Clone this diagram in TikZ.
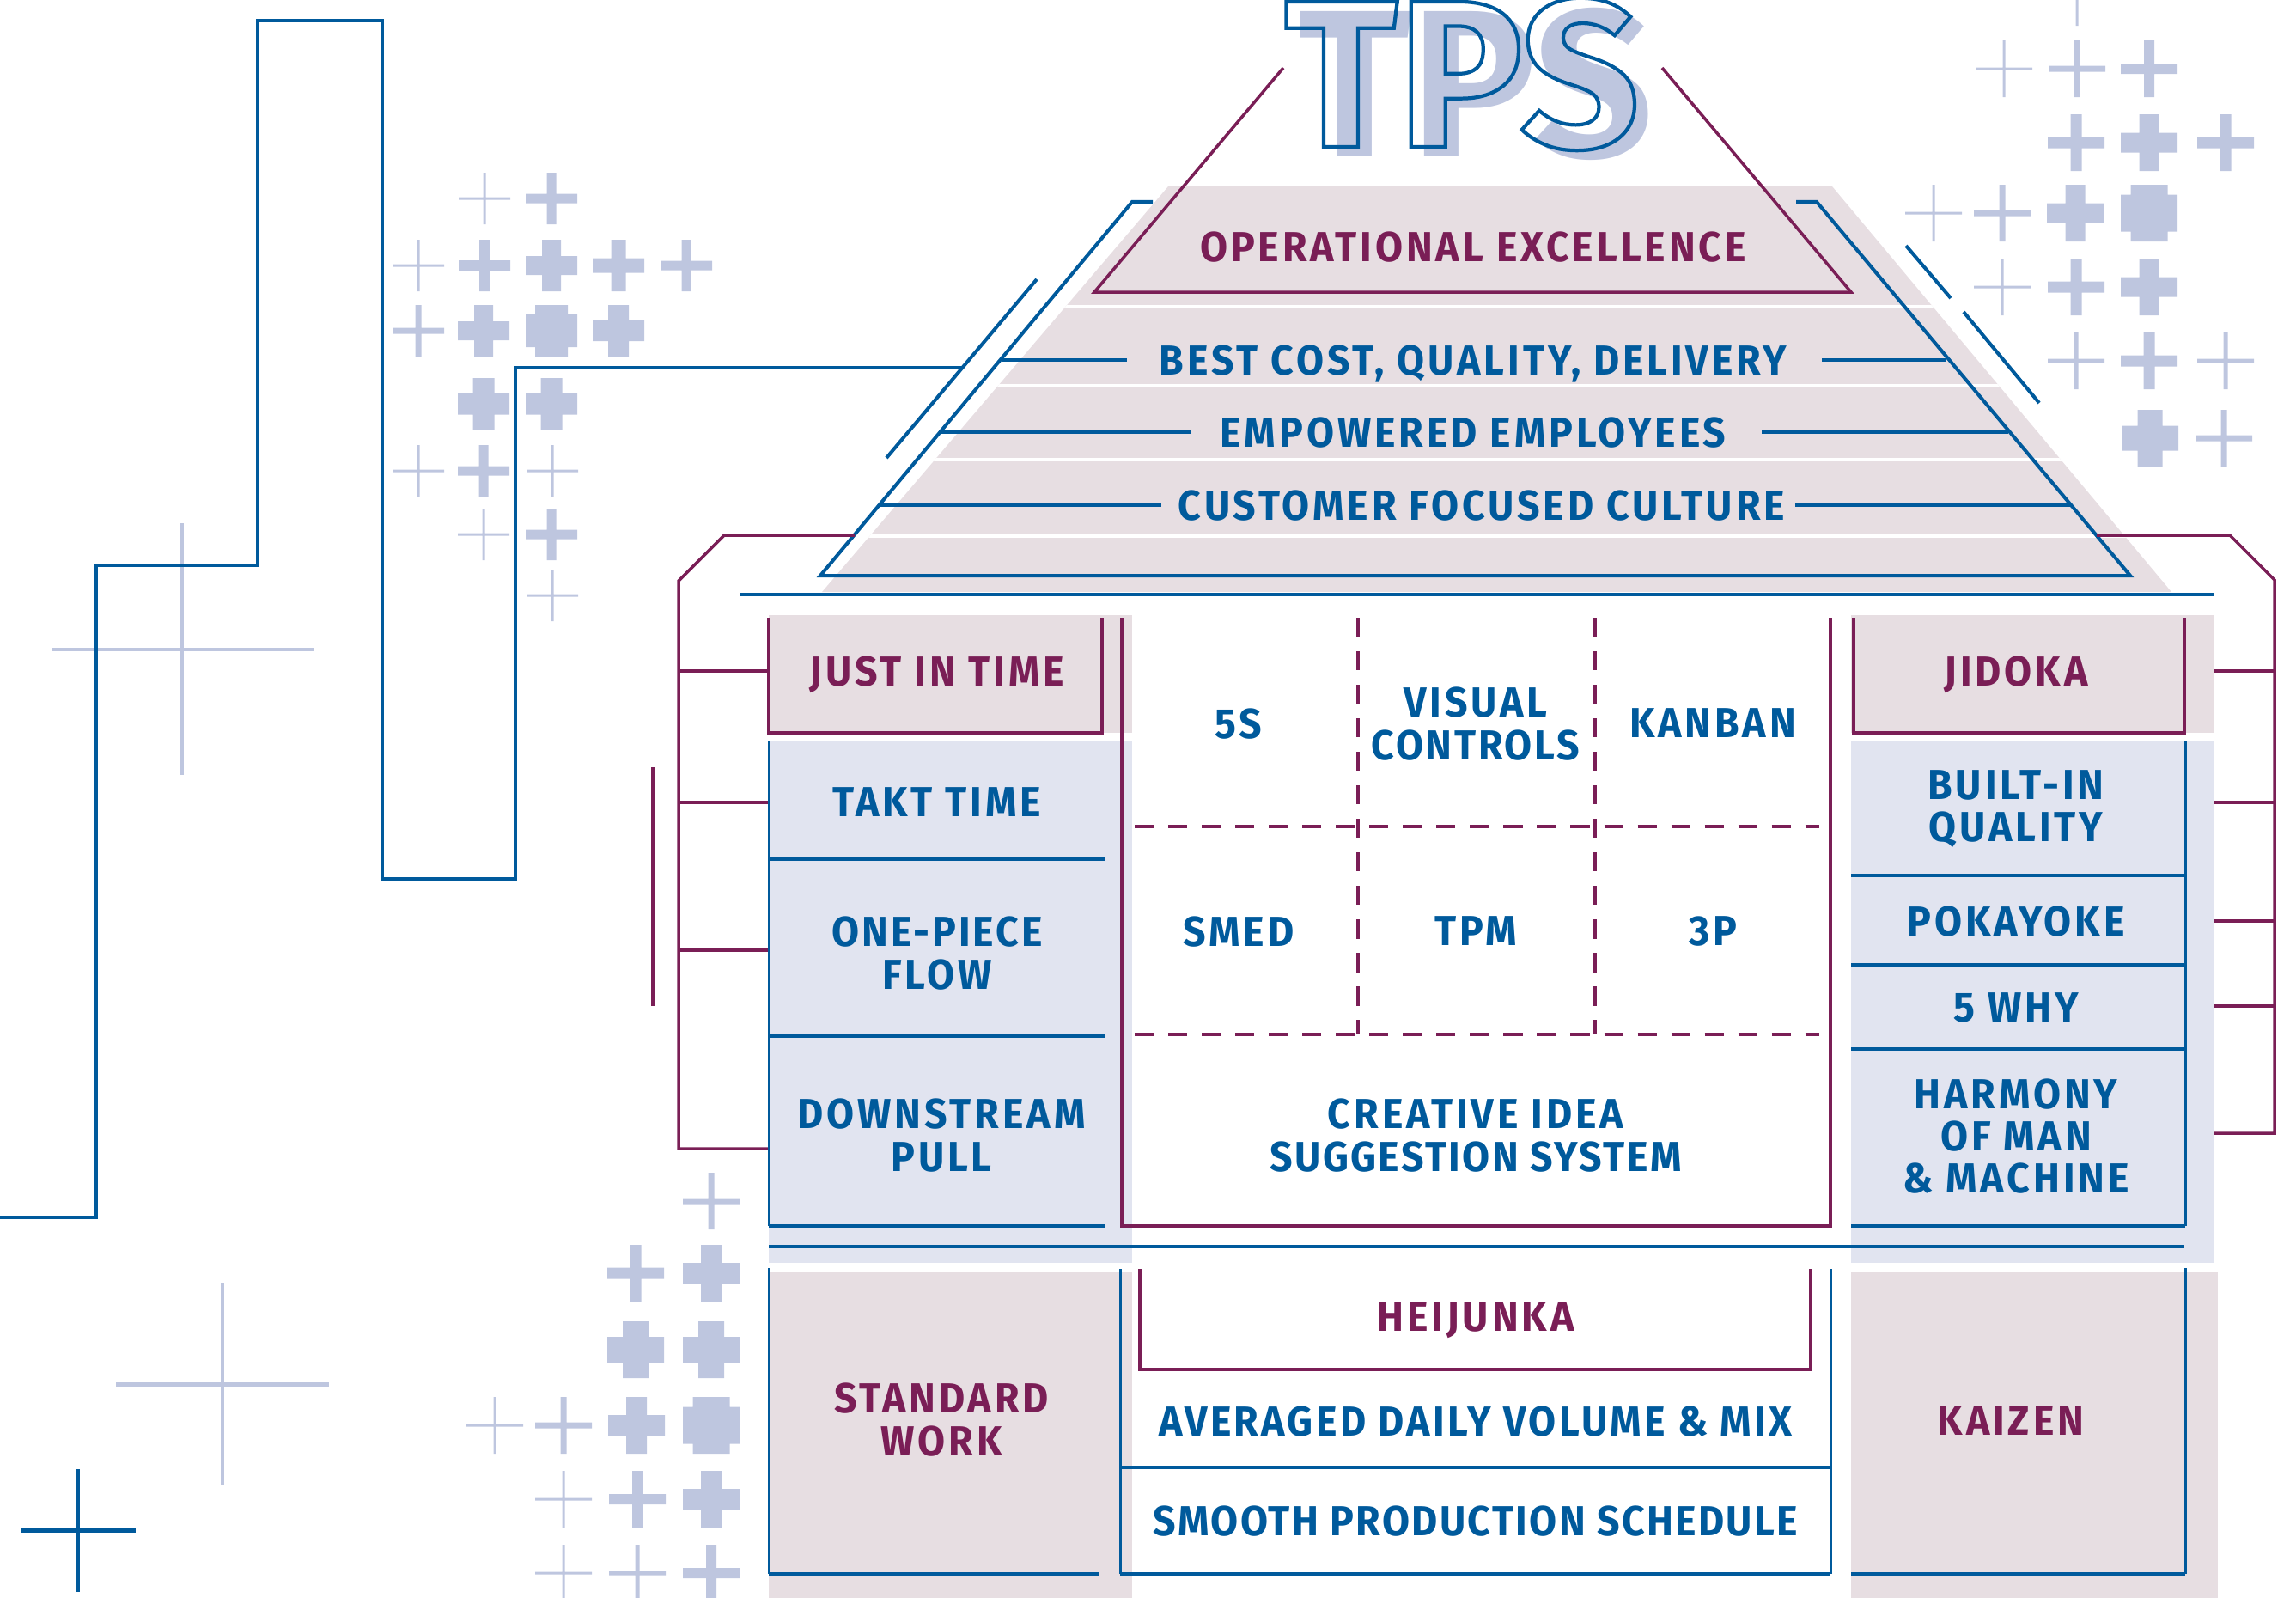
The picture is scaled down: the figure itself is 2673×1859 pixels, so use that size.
\documentclass[tikz,border=0pt]{standalone}
\usepackage{fontspec}
\newfontfamily\lblfont[FakeStretch=0.95,LetterSpace=8]{Fira Sans}
\newfontfamily\tpsfont{Fira Sans}
\definecolor{tpsblue}{RGB}{0,90,156}
\definecolor{tpspurple}{RGB}{122,30,86}
\definecolor{tpslav}{RGB}{190,198,223}
\definecolor{tpspink}{RGB}{231,222,226}
\definecolor{tpspale}{RGB}{225,228,240}

\begin{document}
\begin{tikzpicture}[x=0.01cm,y=-0.01cm,
    lbl/.style={font=\lblfont\bfseries\fontsize{13.9}{14}\selectfont,text=tpsblue,inner sep=0pt,align=center,text depth=0pt},
    plbl/.style={lbl,text=tpspurple},
    bline/.style={draw=tpsblue,line width=1.15pt},
    bthin/.style={draw=tpsblue,line width=0.85pt},
    pline/.style={draw=tpspurple,line width=1pt},
    pdash/.style={pline,dash pattern=on 6.3pt off 4.8pt},
    lavline/.style={draw=tpslav,line width=1.4pt},
    tps/.style={font=\tpsfont\bfseries\fontsize{69.4}{70}\selectfont,inner sep=0pt,anchor=base}]
  \useasboundingbox (0,0) rectangle (2673,1859);
  \clip (0,0) rectangle (2673,1859);

  \foreach \cx/\cy/\cw/\ch in {564/231/3/30,642/231/11/30,487/309/3/30,564/309/12/30,642/309/22/30,720/309/17/30,799/309/11/30,
      487/385/7/30,563/385/22/30,642/385/38/30,720/385/24/30,563/470/25/30,642/470/25/30,487/548/3/30,563/548/11/30,
      643/548/3/30,563/622/3/30,642/622/11/30,643/693/3/30,
      2418/-3/3/33,2333/80/3/33,2418/80/7/33,2502/80/12/33,2417/166/13/33,2502/166/23/33,2591/166/13/33,
      2251/248/3/33,2331/248/7/33,2416/248/23/33,2502/248/43/33,2331/334/3/33,2417/334/13/33,2502/334/23/33,
      2417/420/5/33,2502/420/13/33,2591/420/5/33,2503/510/29/33,2589/510/7/33,
      828/1398/7/33,740/1482/13/33,828/1482/24/33,740/1571/30/33,828/1571/30/33,576/1659/3/33,656/1659/7/33,
      741/1659/24/33,828/1659/43/33,656/1745/3/33,742/1745/12/33,828/1745/24/33,656/1831/3/33,742/1831/5/33,828/1831/12/33}
    \fill[tpslav] ({\cx-\ch},{\cy-\cw/2}) rectangle ({\cx+\ch},{\cy+\cw/2})
                  ({\cx-\cw/2},{\cy-\ch}) rectangle ({\cx+\cw/2},{\cy+\ch});

  \draw[lavline] (60,756) -- (366,756) (212,609) -- (212,902);
  \draw[lavline] (135,1611) -- (383,1611) (259,1493) -- (259,1729);
  \draw[bline,line width=1.4pt] (24,1781) -- (158,1781) (91,1710) -- (91,1853);
  \draw[bline,line width=1.35pt] (0,1417) -- (112,1417) -- (112,658) -- (300,658) -- (300,24) -- (445,24)
    -- (445,1023) -- (600,1023) -- (600,428) -- (1120,428);

  \fill[tpspink] (1360,217) -- (2133,217) -- (2528,689) -- (957,689) -- cycle;
  \begin{scope}
    \clip (1360,217) -- (2133,217) -- (2528,689) -- (957,689) -- cycle;
    \foreach \y in {357,449,535,624}
      \draw[white,line width=1.4pt] (900,\y) -- (2600,\y);
  \end{scope}
  \draw[bline] (1342,235) -- (1318,235) -- (955,670) -- (2480,670) -- (2115,235) -- (2091,235);
  \draw[bline] (1207,325) -- (1032,533);
  \draw[bline] (2219,286) -- (2271,347) (2286,363) -- (2374,469);
  \draw[pline] (1494,79) -- (1274,340) -- (2155,340) -- (1935,79);

  \draw[pline] (995,623) -- (843,623) -- (790,676) -- (790,1337) -- (895,1337);
  \foreach \y in {781,934,1106}
    \draw[pline] (790,\y) -- (895,\y);
  \draw[pline] (760,893) -- (760,1171);
  \draw[pline] (2441,623) -- (2596,623) -- (2648,675) -- (2648,1319) -- (2544,1319);
  \foreach \y in {781,934,1072,1171}
    \draw[pline] (2544,\y) -- (2648,\y);
  \draw[bline] (861,692) -- (2578,692);

  \fill[tpspink] (895,716) rectangle (1318,853);
  \fill[tpspale] (895,863) rectangle (1318,1470);
  \fill[tpspink] (2155,716) rectangle (2578,853);
  \fill[tpspale] (2155,863) rectangle (2578,1470);
  \fill[tpspink] (895,1481) rectangle (1318,1870);
  \fill[tpspink] (2155,1481) rectangle (2582,1870);

  \draw[pline] (895,719) -- (895,853) -- (1283,853) -- (1283,719);
  \draw[bthin] (895,863) -- (895,1427);
  \foreach \y in {1000,1206,1427}
    \draw[bline] (895,\y) -- (1287,\y);
  \draw[pline] (1306,719) -- (1306,1427) -- (2131,1427) -- (2131,719);
  \draw[pdash] (1321,962) -- (2118,962) (1321,1204) -- (2118,1204);
  \draw[pdash] (1581,719) -- (1581,1204) (1857,719) -- (1857,1204);
  \draw[pline] (2158,719) -- (2158,853) -- (2543,853) -- (2543,719);
  \draw[bthin] (2544,863) -- (2544,1427);
  \foreach \y in {1019,1123,1221,1427}
    \draw[bline] (2155,\y) -- (2544,\y);
  \draw[bline] (895,1451) -- (2543,1451);

  \draw[bthin] (895,1476) -- (895,1832);
  \draw[bline] (895,1832) -- (1280,1832);
  \draw[bthin] (1304,1477) -- (1304,1832) (2131,1477) -- (2131,1832);
  \draw[bline] (1304,1832) -- (2131,1832) (1304,1708) -- (2131,1708);
  \draw[pline] (1327,1477) -- (1327,1594) -- (2108,1594) -- (2108,1477);
  \draw[bthin] (2544,1476) -- (2544,1832);
  \draw[bline] (2155,1832) -- (2544,1832);

  \node[plbl] (opex) at (1715,287) {OPERATIONAL EXCELLENCE};
  \node[lbl] (best) at (1715,419) {BEST COST, QUALITY, DELIVERY};
  \node[lbl] (empw) at (1715,503) {EMPOWERED EMPLOYEES};
  \node[lbl] (cust) at (1725,588) {CUSTOMER FOCUSED CULTURE};
  \draw[bline] (1166,419) -- ([xshift=-0.37cm]best.west) ([xshift=0.4cm]best.east) -- (2266,419);
  \draw[bline] (1096,503) -- ([xshift=-0.33cm]empw.west) ([xshift=0.41cm]empw.east) -- (2338,503);
  \draw[bline] (1024,588) -- ([xshift=-0.19cm]cust.west) ([xshift=0.11cm]cust.east) -- (2411,588);

  \node[plbl] (jit) at (1091,781) {JUST IN TIME};
  \node[lbl] (takt) at (1091,934) {TAKT TIME};
  \node[lbl] (onepiece) at (1091,1109) {\addfontfeature{LetterSpace=6}ONE-PIECE\\FLOW};
  \node[lbl] (pull) at (1096,1321) {DOWNSTREAM\\PULL};
  \node[lbl] (fives) at (1442,842) {5S};
  \node[lbl] (visual) at (1718,842) {VISUAL\\\addfontfeature{LetterSpace=5.5}CONTROLS};
  \node[lbl] (kanban) at (1994,842) {KANBAN};
  \node[lbl] (smed) at (1442,1084) {SMED};
  \node[lbl] (tpm) at (1718,1084) {TPM};
  \node[lbl] (threep) at (1994,1084) {3P};
  \node[lbl] (idea) at (1718,1321) {CREATIVE IDEA\\\addfontfeature{LetterSpace=5}SUGGESTION SYSTEM};
  \node[plbl] (jidoka) at (2347,781) {JIDOKA};
  \node[lbl] (builtin) at (2347,938) {BUILT-IN\\QUALITY};
  \node[lbl] (pokayoke) at (2347,1072) {POKAYOKE};
  \node[lbl] (fivewhy) at (2347,1173) {5 WHY};
  \node[lbl] (harmony) at (2347,1322) {HARMONY\\OF MAN\\\& MACHINE};
  \node[plbl] (heijunka) at (1718,1533) {HEIJUNKA};
  \node[lbl] (averaged) at (1718,1654) {\addfontfeature{LetterSpace=6.8}AVERAGED DAILY VOLUME \& MIX};
  \node[lbl] (smooth) at (1718,1770) {\addfontfeature{LetterSpace=4.8}SMOOTH PRODUCTION SCHEDULE};
  \node[plbl] (stdwork) at (1096,1652) {STANDARD\\WORK};
  \node[plbl] (kaizen) at (2341,1654) {KAIZEN};

  \node[tps,text=tpslav] (tpsshadow) at (1718,182) {TPS};
  \node[tps,text=tpsblue] (tps) at (1702,171)
    {\special{pdf:literal direct 1 Tr 1.2 w}TPS\special{pdf:literal direct 0 Tr}};
\end{tikzpicture}
\end{document}
